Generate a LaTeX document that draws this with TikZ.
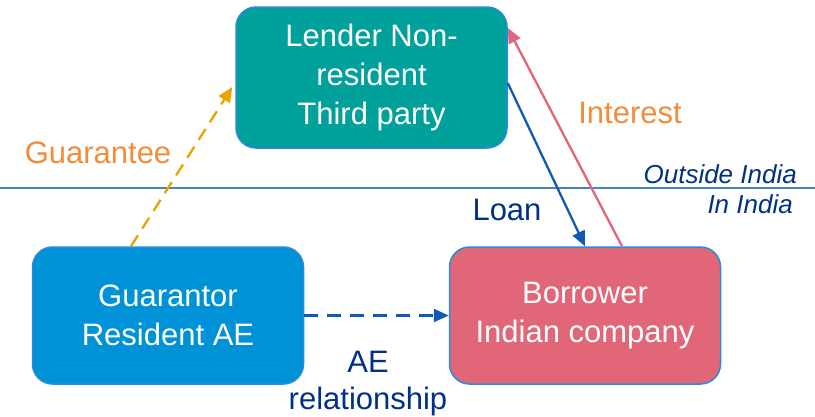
\documentclass[tikz,border=0pt]{standalone}
\usepackage{fontspec}
\setmainfont{Liberation Sans}
\usetikzlibrary{arrows.meta}

\definecolor{lendercol}{RGB}{0,160,155}
\definecolor{guarcol}{RGB}{0,146,214}
\definecolor{borrcol}{RGB}{225,103,120}
\definecolor{edgecol}{RGB}{40,140,220}
\definecolor{sepcol}{RGB}{70,130,200}
\definecolor{goldcol}{RGB}{232,165,0}
\definecolor{orangetxt}{RGB}{242,140,56}
\definecolor{navytxt}{RGB}{0,48,135}
\definecolor{loancol}{RGB}{15,90,180}

\tikzset{
  party/.style={draw=edgecol, line width=1.5pt, rounded corners=20pt, text=white,
    align=center, minimum width=271pt, font=\fontsize{31}{39}\selectfont},
  lbl/.style={font=\fontsize{31}{37}\selectfont, align=center},
  region/.style={font=\fontsize{26}{30}\selectfont\itshape, text=navytxt, anchor=base east, inner sep=0pt},
  flow/.style={line width=2.3pt, -{Triangle[length=15pt, width=13pt]}},
}

\begin{document}
\begin{tikzpicture}[x=1pt, y=-1pt]
\useasboundingbox (0,0) rectangle (815,416);

% the three parties
\node[party, fill=lendercol, minimum height=141pt] (lender) at (371.5,77.5) {Lender Non-\\resident\\Third party};
\node[party, fill=guarcol, minimum height=137pt] (guarantor) at (168,315.5) {Guarantor\\Resident AE};
\node[party, fill=borrcol, minimum height=137pt] (borrower) at (585,315.5) {Borrower\\Indian company};

% border between India and abroad
\draw[sepcol, line width=1.2pt] (0,188) -- (815,188);
\node[region] (outside) at (797,183) {Outside India};
\node[region] (inside) at (793,213) {In India};

% flows
\draw[flow, goldcol, dash pattern=on 13pt off 8pt] ([xshift=-37pt]guarantor.north) -- ([xshift=-3pt,yshift=-9.5pt]lender.west);
\draw[flow, loancol] ([yshift=-5.5pt]lender.east) -- (borrower.north);
\draw[flow, borrcol] ([xshift=37pt]borrower.north) -- ([yshift=49.5pt]lender.east);
\draw[flow, loancol, dash pattern=on 14pt off 9pt] (guarantor.east) -- (borrower.west);

% labels
\node[lbl, text=orangetxt] (guarlbl) at (98,153) {Guarantee};
\node[lbl, text=orangetxt] (intlbl) at (630,113) {Interest};
\node[lbl, text=navytxt] (loanlbl) at (507,210) {Loan};
\node[lbl, text=navytxt] (aelbl) at (368,384) {AE\\relationship};

\end{tikzpicture}
\end{document}
